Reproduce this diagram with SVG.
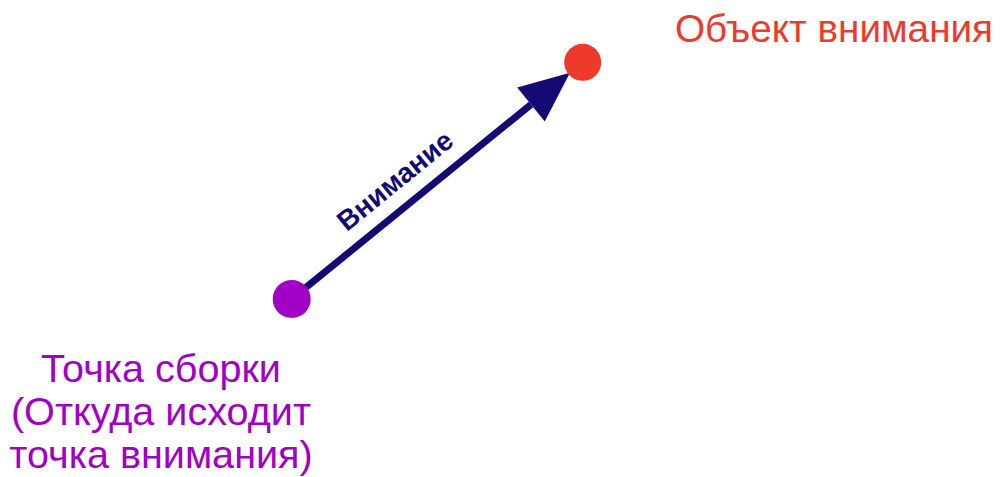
<svg xmlns="http://www.w3.org/2000/svg" width="1000" height="477" viewBox="0 0 1000 477">
<style>
.lbl{font-family:"Liberation Sans",Arial,sans-serif;font-size:39.6px}
.src{fill:#a100c6}
.dst{fill:#ee3a2a}
.edge{stroke:#140a73;stroke-width:7;fill:none}
.elbl{font-family:"Liberation Sans",Arial,sans-serif;font-size:28px;font-weight:bold;fill:#140a73}
</style>
<defs>
<marker id="ah" markerUnits="userSpaceOnUse" markerWidth="60" markerHeight="60" refX="0" refY="0" viewBox="-5 -25 55 50" orient="auto">
<path d="M46,0 L0,-20 L0,20 Z" fill="#140a73"/>
</marker>
</defs>
<g id="connectors">
<line class="edge" x1="291.7" y1="299" x2="531" y2="104.5" marker-end="url(#ah)"/>
<text class="elbl" transform="translate(401,188) rotate(-39.1)" text-anchor="middle">Внимание</text>
</g>
<g id="source">
<circle class="src" cx="291.7" cy="299" r="19"/>
<text class="lbl src" text-anchor="middle"><tspan x="161" y="382">Точка сборки</tspan><tspan x="161" y="425">(Откуда исходит</tspan><tspan x="161" y="468">точка внимания)</tspan></text>
</g>
<g id="target">
<circle class="dst" cx="582.7" cy="62.3" r="18.5"/>
<text class="lbl dst" x="675" y="42" style="font-size:38.7px">Объект внимания</text>
</g>
</svg>
